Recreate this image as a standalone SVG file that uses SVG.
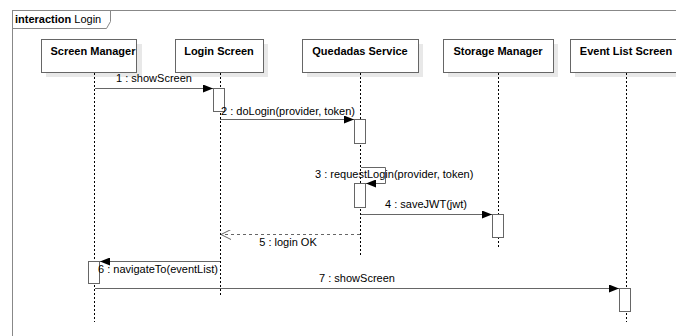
<svg xmlns="http://www.w3.org/2000/svg" width="676" height="336" viewBox="0 0 676 336">
<defs>
<style>
text{font-family:"Liberation Sans",Arial,sans-serif;font-size:11px;fill:#000}
.hd{font-weight:bold;text-anchor:middle}
.frame{fill:none;stroke:#888;stroke-width:1}
.box{fill:#fff;stroke:#666;stroke-width:1}
.shadow{fill:#e8e8e8}
.life{stroke:#000;stroke-width:1;stroke-dasharray:2,2;fill:none}
.act{fill:#fff;stroke:#666;stroke-width:1}
.msg{stroke:#666;stroke-width:1;fill:none}
.ret{stroke:#666;stroke-width:1;fill:none;stroke-dasharray:3,3}
.lbl{text-anchor:middle}
</style>
<marker id="fill" markerWidth="10" markerHeight="8" refX="10" refY="4" orient="auto" markerUnits="userSpaceOnUse">
<path d="M0,0 L10,4 L0,8 Z" fill="#000"/>
</marker>
<marker id="open" markerWidth="10" markerHeight="10" refX="10" refY="5" orient="auto" markerUnits="userSpaceOnUse">
<path d="M0,0 L10,5 L0,10" fill="none" stroke="#666" stroke-width="1"/>
</marker>
</defs>
<rect width="676" height="336" fill="#fff"/>
<g id="frame">
<rect class="frame" x="12.5" y="10.5" width="700" height="400"/>
<path class="frame" d="M12.5,28.5 H106.5 L110.5,21.5 V10.5"/>
<text x="15" y="23"><tspan font-weight="bold">interaction</tspan> Login</text>
</g>
<g id="screen-manager">
<rect class="shadow" x="46" y="44" width="96" height="33"/>
<rect class="box" x="41.5" y="39.5" width="95" height="33"/>
<text class="hd" x="93" y="55">Screen Manager</text>
<line class="life" x1="94.5" y1="73" x2="94.5" y2="322"/>
</g>
<g id="login-screen">
<rect class="shadow" x="180" y="44" width="88" height="33"/>
<rect class="box" x="175.5" y="39.5" width="88" height="33"/>
<text class="hd" x="219" y="55">Login Screen</text>
<line class="life" x1="220.5" y1="73" x2="220.5" y2="296"/>
</g>
<g id="quedadas-service">
<rect class="shadow" x="307" y="44" width="116" height="33"/>
<rect class="box" x="302.5" y="39.5" width="116" height="33"/>
<text class="hd" x="360" y="55">Quedadas Service</text>
<line class="life" x1="360.5" y1="73" x2="360.5" y2="257"/>
</g>
<g id="storage-manager">
<rect class="shadow" x="448" y="44" width="110" height="33"/>
<rect class="box" x="443.5" y="39.5" width="110" height="33"/>
<text class="hd" x="498" y="55">Storage Manager</text>
<line class="life" x1="498.5" y1="73" x2="498.5" y2="247"/>
</g>
<g id="event-list-screen">
<rect class="shadow" x="575" y="44" width="112" height="33"/>
<rect class="box" x="570.5" y="39.5" width="112" height="33"/>
<text class="hd" x="626" y="55">Event List Screen</text>
<line class="life" x1="626.5" y1="73" x2="626.5" y2="322"/>
</g>
<g id="activations">
<rect class="act" x="213.5" y="88.5" width="11" height="23"/>
<rect class="act" x="354.5" y="119.5" width="11" height="24"/>
<rect class="act" x="354.5" y="183.5" width="11" height="24"/>
<rect class="act" x="492.5" y="214.5" width="11" height="23"/>
<rect class="act" x="88.5" y="261.5" width="11" height="22"/>
<rect class="act" x="619.5" y="288.5" width="11" height="23"/>
</g>
<g id="connectors">
<line class="msg" x1="95" y1="88.5" x2="213" y2="88.5" marker-end="url(#fill)"/>
<text class="lbl" x="154" y="82">1 : showScreen</text>
<line class="msg" x1="220" y1="119.5" x2="354" y2="119.5" marker-end="url(#fill)"/>
<text x="221" y="115">2 : doLogin(provider, token)</text>
<path class="msg" d="M361,167.5 H385.5 V183.5 H366" marker-end="url(#fill)"/>
<text x="315" y="178">3 : requestLogin(provider, token)</text>
<line class="msg" x1="361" y1="214.5" x2="492" y2="214.5" marker-end="url(#fill)"/>
<text class="lbl" x="426" y="208">4 : saveJWT(jwt)</text>
<line class="ret" x1="360" y1="234.5" x2="221" y2="234.5" marker-end="url(#open)"/>
<text class="lbl" x="288" y="246">5 : login OK</text>
<line class="msg" x1="220" y1="261.5" x2="100" y2="261.5" marker-end="url(#fill)"/>
<text x="98" y="273">6 : navigateTo(eventList)</text>
<line class="msg" x1="95" y1="288.5" x2="619" y2="288.5" marker-end="url(#fill)"/>
<text class="lbl" x="357" y="282">7 : showScreen</text>
</g>
</svg>
